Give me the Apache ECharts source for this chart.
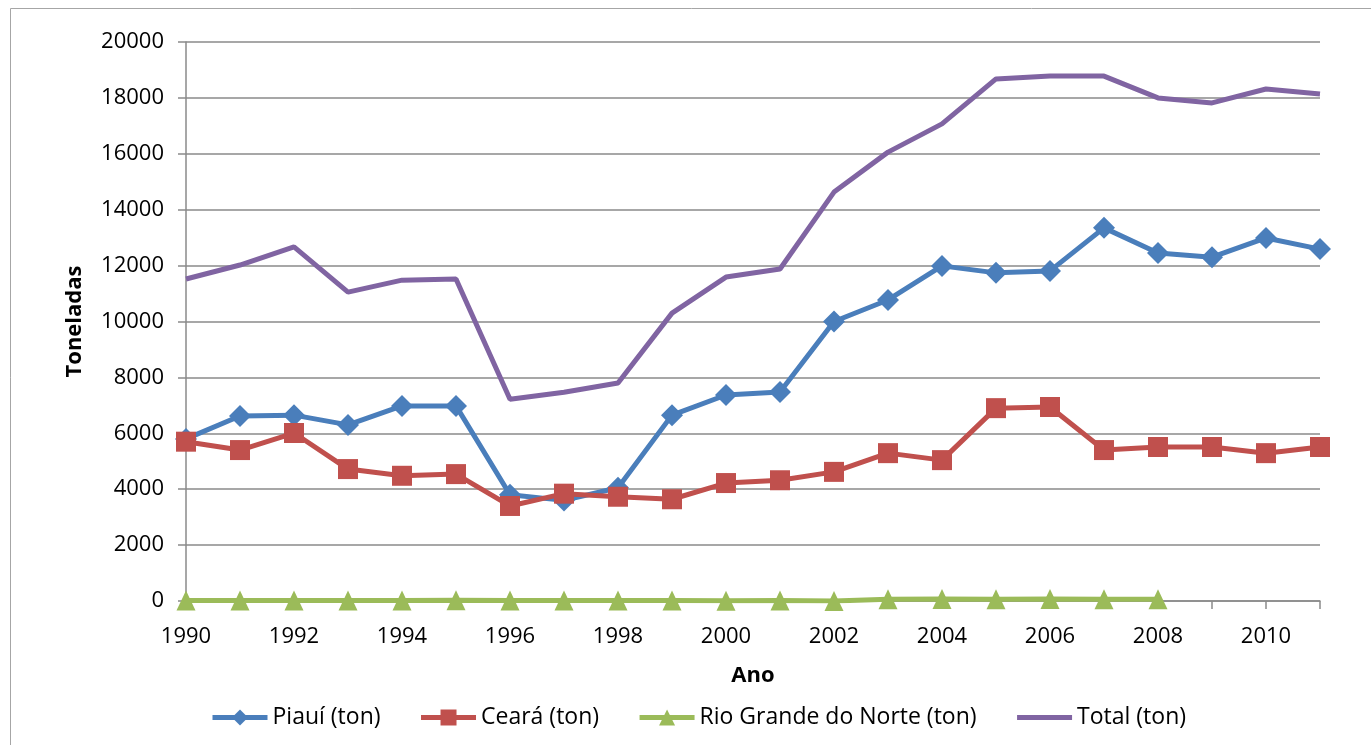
<!DOCTYPE html>
<html>
<head>
<meta charset="utf-8">
<script src="https://cdn.jsdelivr.net/npm/echarts@6/dist/echarts.min.js"></script>
<style>
  html, body { margin: 0; padding: 0; background: #fff; }
  #chart { width: 1371px; height: 745px; }
</style>
</head>
<body>
<div id="chart"></div>
<script>
  const anos = ['1990','1991','1992','1993','1994','1995','1996','1997','1998','1999','2000',
                '2001','2002','2003','2004','2005','2006','2007','2008','2009','2010','2011'];
  const piaui = [5800, 6620, 6650, 6300, 6980, 6980, 3800, 3600, 4050, 6650, 7370,
                 7480, 10000, 10770, 11990, 11740, 11810, 13350, 12450, 12300, 12990, 12590];
  const ceara = [5700, 5400, 6010, 4720, 4480, 4540, 3400, 3840, 3730, 3640, 4220,
                 4320, 4620, 5290, 5040, 6900, 6940, 5400, 5510, 5510, 5290, 5510];
  const rgn = [20, 20, 20, 20, 20, 30, 20, 20, 20, 20, 10,
               20, 0, 60, 70, 60, 70, 60, 60];
  const total = [11520, 12020, 12670, 11050, 11480, 11520, 7220, 7470, 7800, 10300, 11590,
                 11880, 14630, 16060, 17070, 18680, 18780, 18780, 18000, 17820, 18320, 18140];

  const chart = echarts.init(document.getElementById('chart'));
  const cinza = '#8a8a8a';
  const fonte = '"Open Sans", sans-serif';

  let option = {
    animation: false,
    backgroundColor: '#fff',
    graphic: [
      {
        type: 'rect',
        shape: { x: 10.5, y: 8.5, width: 1400, height: 800 },
        style: { fill: 'none', stroke: '#a6a6a6', lineWidth: 1 }
      }
    ],
    grid: { left: 186, top: 42, right: 51, bottom: 144 },
    legend: {
      left: 205,
      top: 701,
      itemWidth: 55,
      itemHeight: 20,
      itemGap: 38,
      lineStyle: { width: 5 },
      textStyle: { fontFamily: fonte, fontSize: 23, color: '#000' },
      data: [
        'Piauí (ton)',
        'Ceará (ton)',
        'Rio Grande do Norte (ton)',
        { name: 'Total (ton)', itemStyle: { opacity: 0 } }
      ]
    },
    xAxis: {
      type: 'category',
      data: anos,
      boundaryGap: false,
      name: 'Ano',
      nameLocation: 'middle',
      nameGap: 64,
      nameTextStyle: { fontFamily: fonte, fontSize: 22, fontWeight: 'bold', color: '#000' },
      axisLine: { lineStyle: { color: cinza, width: 1.5 } },
      axisTick: { show: true, length: 8, interval: 0, lineStyle: { color: cinza, width: 1.5 } },
      axisLabel: { interval: 1, margin: 25, fontFamily: fonte, fontSize: 22, color: '#000' },
      splitLine: { show: false }
    },
    yAxis: {
      type: 'value',
      min: 0,
      max: 20000,
      interval: 2000,
      name: 'Toneladas',
      nameLocation: 'middle',
      nameGap: 100,
      nameTextStyle: { fontFamily: fonte, fontSize: 22, fontWeight: 'bold', color: '#000' },
      axisLine: { show: true, lineStyle: { color: cinza, width: 1.5 } },
      axisTick: { show: true, length: 8, lineStyle: { color: cinza, width: 1.5 } },
      axisLabel: {
        margin: 22, fontFamily: fonte, fontSize: 22, color: '#000',
        formatter: v => String(v)
      },
      splitLine: { lineStyle: { color: cinza, width: 1.5 } }
    },
    series: [
      {
        name: 'Piauí (ton)',
        type: 'line',
        data: piaui,
        color: '#4a7ebb',
        lineStyle: { width: 5 },
        symbol: 'diamond',
        symbolSize: 22
      },
      {
        name: 'Ceará (ton)',
        type: 'line',
        data: ceara,
        color: '#c0504d',
        lineStyle: { width: 5 },
        symbol: 'rect',
        symbolSize: 20
      },
      {
        name: 'Rio Grande do Norte (ton)',
        type: 'line',
        data: rgn,
        color: '#9bbb59',
        lineStyle: { width: 5 },
        symbol: 'triangle',
        symbolSize: [19, 20]
      },
      {
        name: 'Total (ton)',
        type: 'line',
        data: total,
        color: '#8064a2',
        lineStyle: { width: 5 },
        symbol: 'none'
      }
    ]
  };
  chart.setOption(option);
</script>
</body>
</html>
